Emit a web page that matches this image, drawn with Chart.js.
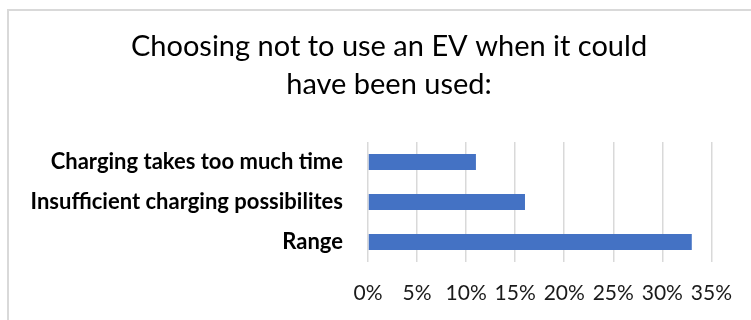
<!DOCTYPE html>
<html>
<head>
<meta charset="utf-8">
<script src="https://cdn.jsdelivr.net/npm/chart.js@4.4.0/dist/chart.umd.min.js"></script>
<style>
  html, body { margin: 0; padding: 0; background: #fff; overflow: hidden; }
  #wrap { position: relative; width: 751px; height: 320px; }
  #frame { position: absolute; left: 7px; top: 9px; width: 800px; height: 400px;
           border-left: 2px solid #d9d9d9; border-top: 2px solid #d9d9d9; }
  canvas { position: absolute; left: 0; top: 0; }
</style>
</head>
<body>
<div id="wrap">
  <div id="frame"></div>
  <canvas id="c" width="751" height="320"></canvas>
</div>
<script>
// Reasons given, top to bottom
const categories = [
  'Charging takes too much time',
  'Insufficient charging possibilites',
  'Range'
];
// Share of respondents, in percent
const shares = [11, 16, 33];
// Percentage axis
const axisMin = 0;
const axisMax = 35;
const axisStep = 5;
const titleLines = ['Choosing not to use an EV when it could', 'have been used:'];

const FONT = 'Lato, "Open Sans", sans-serif';

// The chart frame runs on past the right edge, so the title is centred
// on the frame (x 65..713) rather than on the visible canvas.
const frameTitle = {
  id: 'frameTitle',
  afterLayout(chart) {
    const t = chart.titleBlock;
    if (t) { t.left = 65; t.right = 713; }
  }
};

new Chart(document.getElementById('c'), {
  type: 'bar',
  data: {
    labels: categories,
    datasets: [{
      data: shares,
      backgroundColor: '#4472C4',
      borderWidth: 0,
      barPercentage: 0.4,
      categoryPercentage: 1.0
    }]
  },
  plugins: [frameTitle],
  options: {
    indexAxis: 'y',
    responsive: false,
    animation: false,
    devicePixelRatio: 1,
    layout: { padding: { left: 10, right: 38, top: 0, bottom: 0 } },
    plugins: {
      legend: { display: false },
      tooltip: { enabled: false },
      title: {
        display: true,
        text: titleLines,
        color: '#000',
        font: { family: FONT, size: 29, weight: 'normal', lineHeight: 38 / 29 },
        padding: { top: 28, bottom: 38 }
      }
    },
    scales: {
      x: {
        min: axisMin,
        max: axisMax,
        afterFit: s => { s.height = 58; },
        ticks: {
          stepSize: axisStep,
          color: '#1a1a1a',
          padding: 19,
          font: { family: FONT, size: 21 },
          callback: v => v + '%'
        },
        grid: { color: '#d9d9d9', lineWidth: 1.5, drawTicks: false },
        border: { display: false }
      },
      y: {
        afterFit: s => { s.width = 358; },
        ticks: {
          color: '#000',
          padding: 25,
          font: { family: FONT, size: 22, weight: 'bold' }
        },
        grid: { display: false, drawTicks: false },
        border: { display: false }
      }
    }
  }
});
</script>
</body>
</html>
